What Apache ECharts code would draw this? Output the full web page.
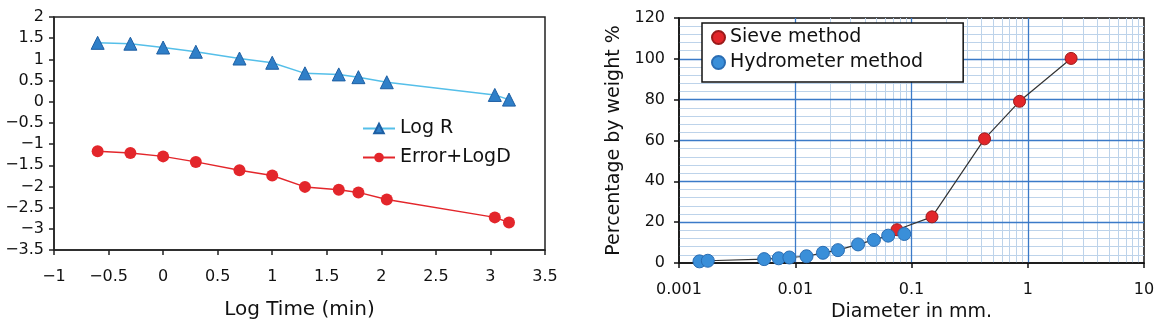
<!DOCTYPE html>
<html>
<head>
<meta charset="utf-8">
<script src="https://cdn.jsdelivr.net/npm/echarts@6/dist/echarts.min.js"></script>
<style>html,body{margin:0;padding:0;background:#fff;}#c{width:1160px;height:327px;}</style>
</head>
<body>
<div id="c"></div>
<script>
// ---- Left chart data ----
const logTime = [-0.6, -0.3, 0, 0.3, 0.7, 1.0, 1.3, 1.61, 1.79, 2.05, 3.04, 3.17];
const logR = [1.39, 1.37, 1.28, 1.18, 1.02, 0.92, 0.67, 0.645, 0.58, 0.46, 0.16, 0.05];
const errorLogD = [-1.17, -1.21, -1.29, -1.42, -1.62, -1.74, -2.01, -2.08, -2.14, -2.31, -2.73, -2.85];
const leftXAxisRange = [-1, 3.5, 0.5];
const leftYAxisRange = [-3.5, 2, 0.5];

// ---- Right chart data ----
const sieveDiameter = [0.075, 0.15, 0.425, 0.85, 2.36];
const sievePercent = [16.3, 22.6, 60.8, 79.2, 100.2];
const hydroDiameter = [0.0015, 0.00177, 0.0054, 0.0072, 0.0089, 0.0125, 0.0173, 0.0233, 0.0347, 0.0475, 0.063, 0.0867];
const hydroPercent = [0.8, 1.1, 1.9, 2.3, 2.7, 3.3, 5.0, 6.3, 9.1, 11.3, 13.4, 14.2];
const rightXAxisRange = [0.001, 10];
const rightYAxisRange = [0, 120, 20];
const rightLegendNames = ['Sieve method', 'Hydrometer method'];
const leftLegendNames = ['Log R', 'Error+LogD'];

// minor log grid positions (2..9 per decade)
const minorLogLines = [];
for (let e = -3; e <= 0; e++) {
  for (let k = 2; k <= 9; k++) minorLogLines.push(parseFloat((k * Math.pow(10, e)).toPrecision(6)));
}

const FONT = 'DejaVu Sans';
const minus = v => String(v).replace('-', '\u2212');
const zip = (a, b) => a.map((v, i) => [v, b[i]]);

const chart = echarts.init(document.getElementById('c'), null, {renderer: 'canvas'});
chart.setOption({
  animation: false,
  backgroundColor: '#fff',
  textStyle: {fontFamily: FONT, color: '#111'},
  grid: [
    {left: 54, top: 17, width: 491, height: 233, show: true, borderColor: '#222', borderWidth: 1.5, backgroundColor: 'transparent'},
    {left: 679, top: 18, width: 465, height: 247, show: true, borderColor: '#111', borderWidth: 1.5, backgroundColor: 'transparent'}
  ],
  legend: [
    {
      data: leftLegendNames, orient: 'vertical', left: 362, top: 119, padding: 0,
      itemWidth: 32, itemHeight: 12, itemGap: 10,
      textStyle: {fontFamily: FONT, fontSize: 19, color: '#111'}
    },
    {
      data: rightLegendNames, orient: 'vertical', left: 702, top: 23,
      itemWidth: 13, itemHeight: 13, itemGap: 6, icon: 'circle',
      padding: [5, 40, 10, 9],
      backgroundColor: '#fff', borderColor: '#111', borderWidth: 1.5,
      textStyle: {fontFamily: FONT, fontSize: 19, color: '#111'}
    }
  ],
  xAxis: [
    {
      gridIndex: 0, type: 'value', min: leftXAxisRange[0], max: leftXAxisRange[1], interval: leftXAxisRange[2],
      name: 'Log Time (min)', nameLocation: 'middle', nameGap: 50,
      nameTextStyle: {fontFamily: FONT, fontSize: 20, color: '#111'},
      axisLine: {show: true, onZero: false, lineStyle: {color: '#222', width: 1.5}},
      axisTick: {show: true, length: 5, lineStyle: {color: '#222', width: 1.5}},
      axisLabel: {formatter: minus, margin: 19, fontFamily: FONT, fontSize: 16, color: '#111'},
      splitLine: {show: false}
    },
    {
      gridIndex: 1, type: 'log', logBase: 10, min: rightXAxisRange[0], max: rightXAxisRange[1], z: 1,
      name: 'Diameter in mm.', nameLocation: 'middle', nameGap: 40,
      nameTextStyle: {fontFamily: FONT, fontSize: 19, color: '#111'},
      axisLine: {show: true, onZero: false, lineStyle: {color: '#111', width: 1.5}},
      axisTick: {show: true, length: 5, lineStyle: {color: '#111', width: 1.5}},
      axisLabel: {formatter: v => String(parseFloat(Number(v).toPrecision(6))), margin: 19, fontFamily: FONT, fontSize: 16, color: '#111'},
      splitLine: {show: true, showMinLine: false, showMaxLine: false, lineStyle: {color: '#3b7ac8', width: 1.3}}
    }
  ],
  yAxis: [
    {
      gridIndex: 0, type: 'value', min: leftYAxisRange[0], max: leftYAxisRange[1], interval: leftYAxisRange[2],
      axisLine: {show: true, onZero: false, lineStyle: {color: '#222', width: 1.5}},
      axisTick: {show: true, length: 5, lineStyle: {color: '#222', width: 1.5}},
      axisLabel: {formatter: minus, margin: 10, fontFamily: FONT, fontSize: 16, color: '#111'},
      splitLine: {show: false}
    },
    {
      gridIndex: 1, type: 'value', min: rightYAxisRange[0], max: rightYAxisRange[1], interval: rightYAxisRange[2], z: 1,
      name: 'Percentage by weight %', nameLocation: 'middle', nameGap: 55,
      nameTextStyle: {fontFamily: FONT, fontSize: 19, color: '#111'},
      axisLine: {show: true, onZero: false, lineStyle: {color: '#111', width: 1.5}},
      axisTick: {show: true, length: 5, lineStyle: {color: '#111', width: 1.5}},
      axisLabel: {margin: 14, fontFamily: FONT, fontSize: 16, color: '#111'},
      splitLine: {show: true, showMinLine: false, showMaxLine: false, lineStyle: {color: '#3b7ac8', width: 1.3}},
      minorTick: {show: false, splitNumber: 5},
      minorSplitLine: {show: true, lineStyle: {color: '#bdd3ea', width: 1}}
    }
  ],
  series: [
    {
      name: 'Log R', type: 'line', xAxisIndex: 0, yAxisIndex: 0,
      data: zip(logTime, logR),
      symbol: 'triangle', symbolSize: 13,
      lineStyle: {color: '#55bfe9', width: 1.5},
      itemStyle: {color: '#2f7fc8', borderColor: '#1e5fa3', borderWidth: 1}
    },
    {
      name: 'Error+LogD', type: 'line', xAxisIndex: 0, yAxisIndex: 0,
      data: zip(logTime, errorLogD),
      symbol: 'circle', symbolSize: 12,
      lineStyle: {color: '#e3262b', width: 1.5},
      itemStyle: {color: '#e3262b', borderColor: '#e3262b', borderWidth: 0}
    },
    {
      name: 'Sieve method', type: 'line', xAxisIndex: 1, yAxisIndex: 1,
      data: zip(sieveDiameter, sievePercent),
      symbol: 'circle', symbolSize: 12,
      lineStyle: {color: '#333', width: 1.2},
      itemStyle: {color: '#e2262a', borderColor: '#9a1a1a', borderWidth: 1},
      markLine: {
        silent: true, z: 0, symbol: ['none', 'none'], animation: false,
        label: {show: false},
        lineStyle: {type: 'solid', color: '#bdd3ea', width: 1},
        emphasis: {disabled: true},
        data: minorLogLines.map(v => ({xAxis: v}))
      }
    },
    {
      name: 'Hydrometer method', type: 'line', xAxisIndex: 1, yAxisIndex: 1,
      data: zip(hydroDiameter, hydroPercent),
      symbol: 'circle', symbolSize: 13,
      lineStyle: {color: '#333', width: 1.2},
      itemStyle: {color: '#3a8fd9', borderColor: '#2a6db3', borderWidth: 1}
    }
  ]
});
</script>
</body>
</html>
